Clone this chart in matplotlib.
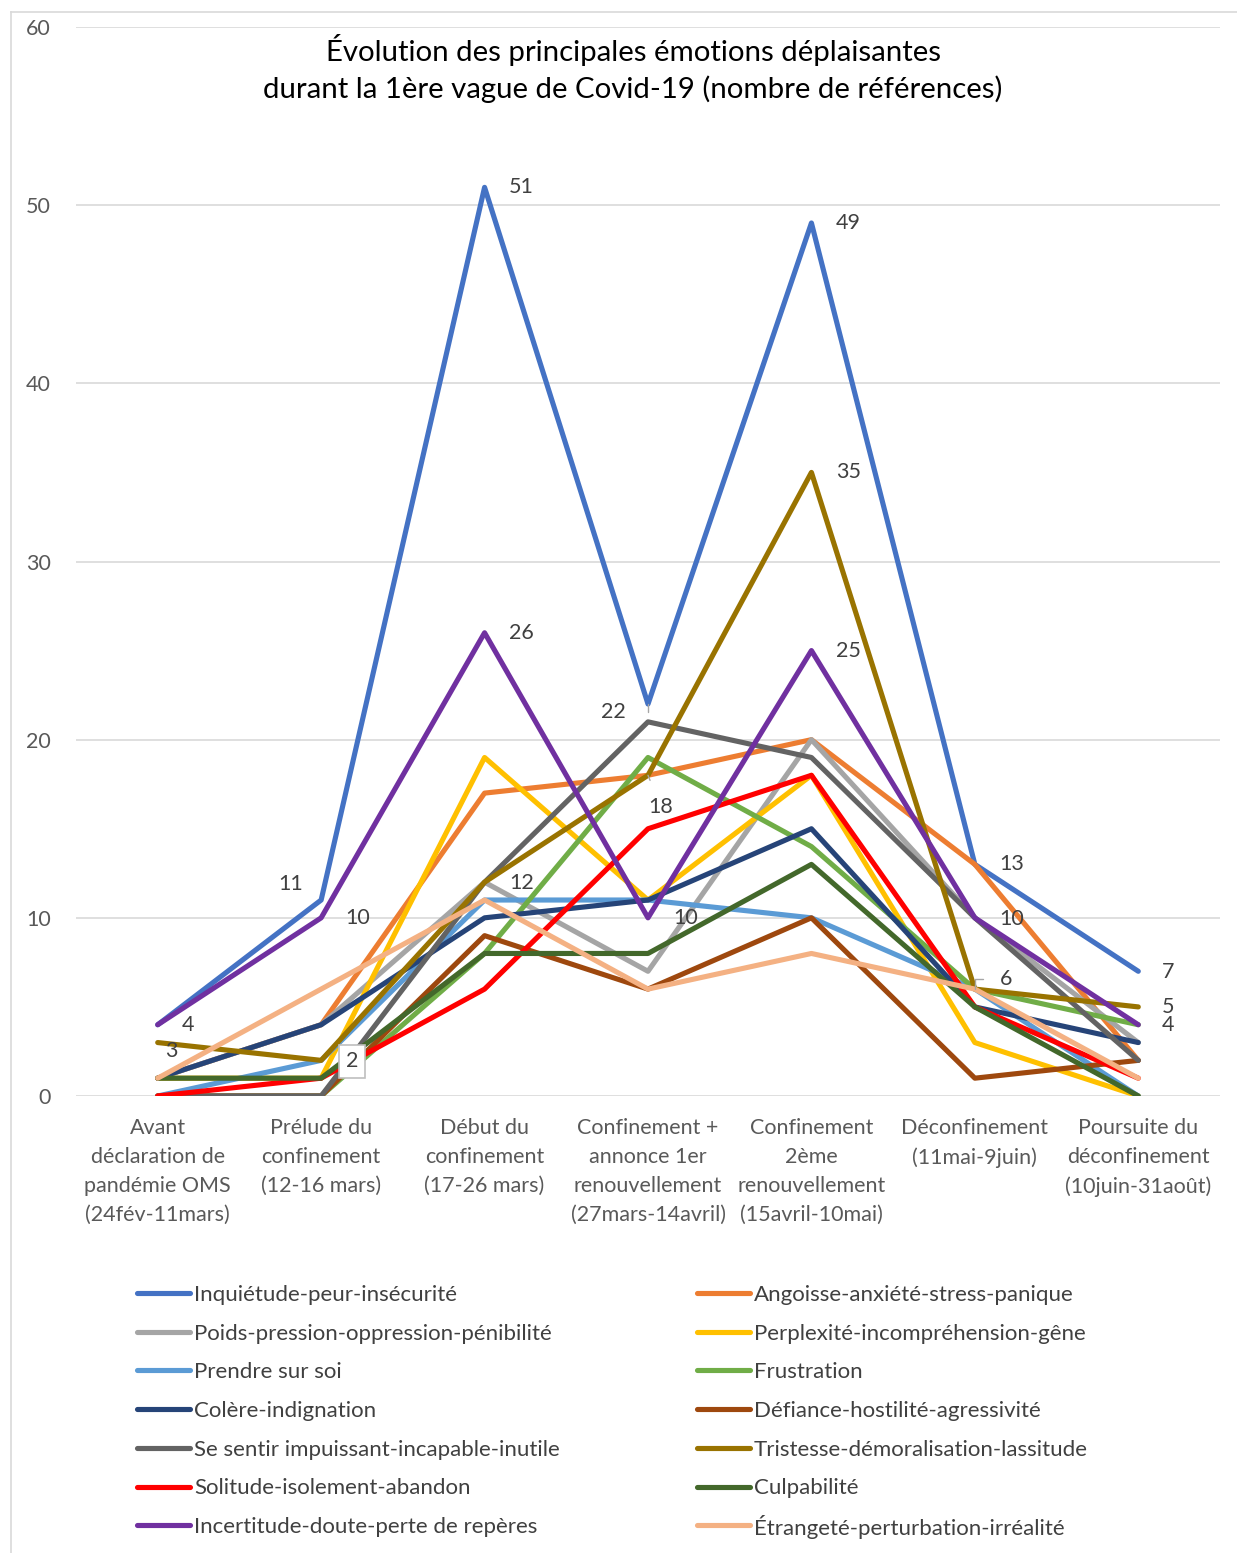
import numpy as np
import matplotlib
matplotlib.use("Agg")
import matplotlib.pyplot as plt
from matplotlib.lines import Line2D

plt.rcParams['font.family'] = ['Lato', 'DejaVu Sans']

# Periods of the first wave
periods = [
    "Avant\ndéclaration de\npandémie OMS\n(24fév-11mars)",
    "Prélude du\nconfinement\n(12-16 mars)",
    "Début du\nconfinement\n(17-26 mars)",
    "Confinement +\nannonce 1er\nrenouvellement\n(27mars-14avril)",
    "Confinement\n2ème\nrenouvellement\n(15avril-10mai)",
    "Déconfinement\n(11mai-9juin)",
    "Poursuite du\ndéconfinement\n(10juin-31août)",
]

# Number of references per emotion
inquietude = [4, 11, 51, 22, 49, 13, 7]
angoisse = [1, 4, 17, 18, 20, 13, 2]
poids = [1, 4, 12, 7, 20, 10, 3]
perplexite = [1, 1, 19, 11, 18, 3, 0]
prendre_sur_soi = [0, 2, 11, 11, 10, 6, 0]
frustration = [0, 0, 8, 19, 14, 6, 4]
colere = [1, 4, 10, 11, 15, 5, 3]
defiance = [0, 0, 9, 6, 10, 1, 2]
impuissant = [0, 0, 12, 21, 19, 10, 2]
tristesse = [3, 2, 12, 18, 35, 6, 5]
solitude = [0, 1, 6, 15, 18, 5, 1]
culpabilite = [1, 1, 8, 8, 13, 5, 0]
incertitude = [4, 10, 26, 10, 25, 10, 4]
etrangete = [1, 6, 11, 6, 8, 6, 1]

series = [
    ("Inquiétude-peur-insécurité", inquietude, "#4472C4"),
    ("Angoisse-anxiété-stress-panique", angoisse, "#ED7D31"),
    ("Poids-pression-oppression-pénibilité", poids, "#A5A5A5"),
    ("Perplexité-incompréhension-gêne", perplexite, "#FFC000"),
    ("Prendre sur soi", prendre_sur_soi, "#5B9BD5"),
    ("Frustration", frustration, "#70AD47"),
    ("Colère-indignation", colere, "#264478"),
    ("Défiance-hostilité-agressivité", defiance, "#9E480E"),
    ("Se sentir impuissant-incapable-inutile", impuissant, "#636363"),
    ("Tristesse-démoralisation-lassitude", tristesse, "#997300"),
    ("Solitude-isolement-abandon", solitude, "#FF0000"),
    ("Culpabilité", culpabilite, "#43682B"),
    ("Incertitude-doute-perte de repères", incertitude, "#7030A0"),
    ("Étrangeté-perturbation-irréalité", etrangete, "#F4B183"),
]

W, H = 1237, 1553
fig = plt.figure(figsize=(W / 100, H / 100), dpi=100)
ax = fig.add_axes([76 / W, 1 - 1096 / H, (1220 - 76) / W, (1096 - 27) / H])

x = np.arange(len(periods))
for name, vals, col in series:
    ax.plot(x, vals, color=col, lw=3.7, solid_capstyle='round',
            solid_joinstyle='round', label=name, zorder=3)

ax.set_xlim(-0.5, len(periods) - 0.5)
ax.set_ylim(0, 60)
ax.set_yticks(range(0, 61, 10))
ax.grid(axis='y', color='#D9D9D9', lw=1.2, zorder=0)
for s in ax.spines.values():
    s.set_visible(False)
ax.tick_params(axis='both', length=0, colors='#595959', labelsize=15.5)
ax.tick_params(axis='y', pad=18)
ax.tick_params(axis='x', pad=16)
ax.set_xticks(x)
ax.set_xticklabels(periods, linespacing=1.55)

title_lines = ["Évolution des principales émotions déplaisantes",
               "durant la 1ère vague de Covid-19 (nombre de références)"]
for k, line in enumerate(title_lines):
    fig.text(633 / W, 1 - (50 + 39 * k) / H, line, ha='center', va='center',
             fontsize=21.2, color='#000000')

# data labels: (series values, point index, offset in pixels)
lab_col = '#404040'
lab_size = 15.5
labels = [
    (inquietude, 0, (30, 0)), (tristesse, 0, (14, -8)),
    (inquietude, 1, (-30, 16)), (incertitude, 1, (37, 0)),
    (inquietude, 2, (37, 0)), (incertitude, 2, (37, 0)), (tristesse, 2, (37, -1)),
    (incertitude, 3, (38, 0)),
    (inquietude, 4, (37, 0)), (tristesse, 4, (37, 0)), (incertitude, 4, (37, 0)),
    (inquietude, 5, (37, 0)), (incertitude, 5, (37, -1)),
    (inquietude, 6, (30, -1)), (tristesse, 6, (30, 0)), (incertitude, 6, (30, 0)),
]
for vals, i, off in labels:
    ax.annotate(str(vals[i]), (i, vals[i]), xytext=off, textcoords='offset pixels',
                ha='center', va='center', fontsize=lab_size, color=lab_col, zorder=5)

# boxed label on the second Tristesse point
ax.annotate(str(tristesse[1]), (1, tristesse[1]), xytext=(31, -1),
            textcoords='offset pixels', ha='center', va='center', fontsize=lab_size,
            color=lab_col, zorder=6,
            bbox=dict(boxstyle='square,pad=0.3', fc='white', ec='#BFBFBF', lw=1.2))

# labels with leader lines
ax.annotate(str(inquietude[3]), (3, inquietude[3]), xytext=(-35, -8),
            textcoords='offset pixels', ha='center', va='center', fontsize=lab_size,
            color=lab_col, zorder=5,
            arrowprops=dict(arrowstyle='-', color='#A6A6A6', lw=1,
                            connectionstyle='angle,angleA=0,angleB=90,rad=0',
                            shrinkA=14, shrinkB=0))
ax.annotate(str(tristesse[3]), (3, tristesse[3]), xytext=(13, -32),
            textcoords='offset pixels', ha='center', va='center', fontsize=lab_size,
            color=lab_col, zorder=5,
            arrowprops=dict(arrowstyle='-', color='#A6A6A6', lw=1,
                            shrinkA=11, shrinkB=0))
ax.annotate(str(tristesse[5]), (5, tristesse[5]), xytext=(31, 10),
            textcoords='offset pixels', ha='center', va='center', fontsize=lab_size,
            color=lab_col, zorder=5,
            arrowprops=dict(arrowstyle='-', color='#A6A6A6', lw=1,
                            connectionstyle='angle,angleA=0,angleB=90,rad=0',
                            shrinkA=10, shrinkB=0))

# legend: two columns filled row by row
for k, (name, vals, col) in enumerate(series):
    row, colno = divmod(k, 2)
    y = 1 - (1293 + 38.7 * row) / H
    x0 = 137 + 560 * colno
    fig.add_artist(Line2D([x0 / W, (x0 + 53) / W], [y, y], transform=fig.transFigure,
                          color=col, lw=3.7, solid_capstyle='round'))
    fig.text((x0 + 57) / W, y, name, ha='left', va='center_baseline',
             fontsize=16, color='#404040')

# chart area border
fig.add_artist(Line2D([11 / W, 11 / W], [0, 1 - 12 / H],
                      transform=fig.transFigure, color='#D9D9D9', lw=1.2))
fig.add_artist(Line2D([11 / W, 1], [1 - 12 / H, 1 - 12 / H],
                      transform=fig.transFigure, color='#D9D9D9', lw=1.2))

fig.savefig("out.png", dpi=100, facecolor='white')
